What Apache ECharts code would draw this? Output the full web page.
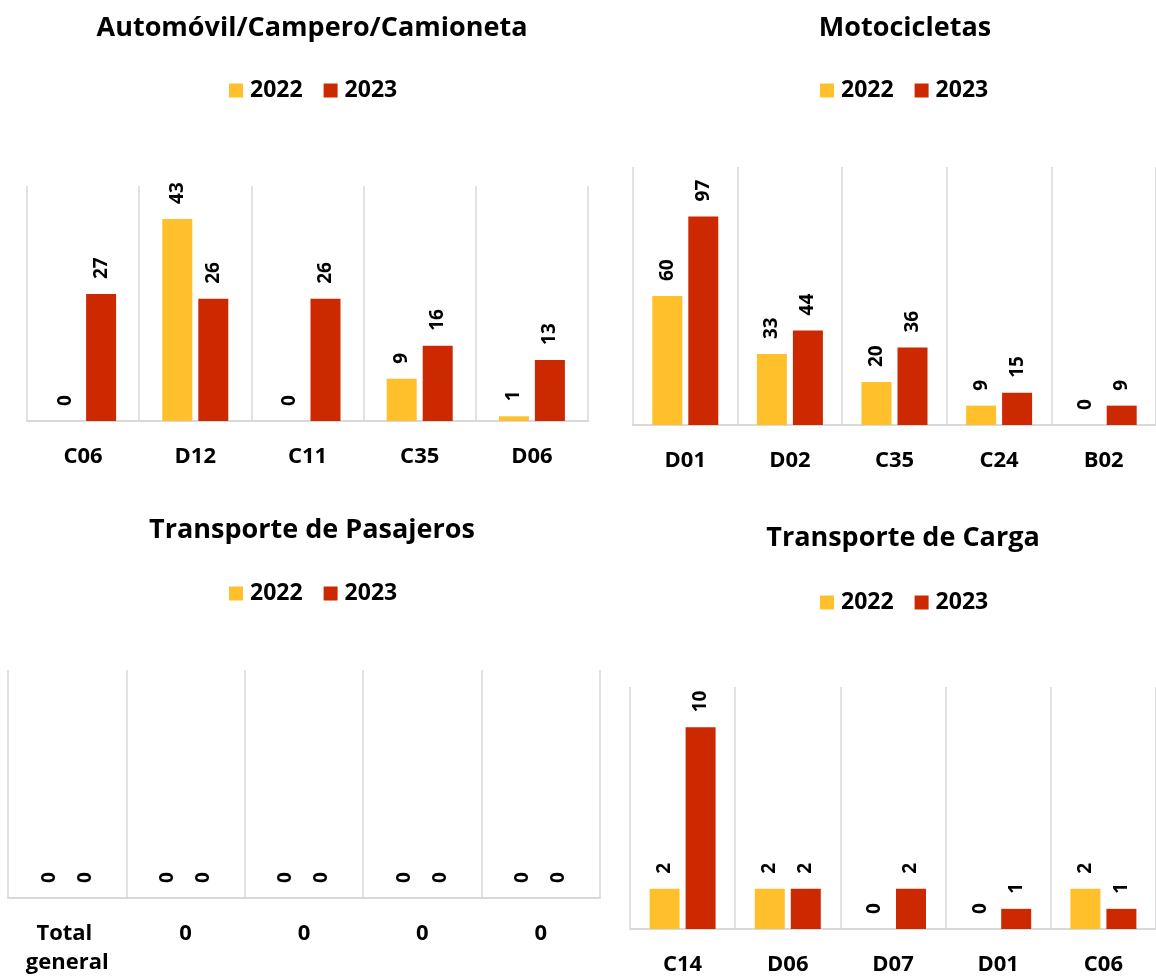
<!DOCTYPE html>
<html>
<head>
<meta charset="utf-8">
<script src="https://cdn.jsdelivr.net/npm/echarts@6/dist/echarts.min.js"></script>
<style>
  html, body { margin: 0; padding: 0; background: #fff; }
  #main { width: 1156px; height: 979px; }
</style>
</head>
<body>
<div id="main"></div>
<script>
// datos por panel
const autoCats = ['C06', 'D12', 'C11', 'C35', 'D06'];
const auto2022 = [0, 43, 0, 9, 1];
const auto2023 = [27, 26, 26, 16, 13];

const motoCats = ['D01', 'D02', 'C35', 'C24', 'B02'];
const moto2022 = [60, 33, 20, 9, 0];
const moto2023 = [97, 44, 36, 15, 9];

const pasajCats = ['Total general', '0', '0', '0', '0'];
const pasaj2022 = [0, 0, 0, 0, 0];
const pasaj2023 = [0, 0, 0, 0, 0];

const cargaCats = ['C14', 'D06', 'D07', 'D01', 'C06'];
const carga2022 = [2, 2, 0, 0, 2];
const carga2023 = [10, 2, 2, 1, 1];

const yMax = [50, 120, 10, 12];

const FONT = 'Open Sans';
const YELLOW = '#FFC02B';
const RED = '#CC2900';
const GRID_COLOR = '#D9D9D9';

const chart = echarts.init(document.getElementById('main'));

const panels = [
  { title: 'Automóvil/Campero/Camioneta', cx: 307, ty: 10, ly: 79, lx: 229, cats: autoCats, a: auto2022, b: auto2023 },
  { title: 'Motocicletas', cx: 900, ty: 10, ly: 79, lx: 820, cats: motoCats, a: moto2022, b: moto2023 },
  { title: 'Transporte de Pasajeros', cx: 307, ty: 512, ly: 582, lx: 229, cats: pasajCats, a: pasaj2022, b: pasaj2023 },
  { title: 'Transporte de Carga', cx: 898, ty: 520, ly: 591, lx: 820, cats: cargaCats, a: carga2022, b: carga2023 }
];

const grids = [
  { left: 27, top: 186, width: 561, height: 235 },
  { left: 633, top: 167, width: 560, height: 258 },
  { left: 8, top: 670, width: 592, height: 228 },
  { left: 630, top: 687, width: 560, height: 244 }
];

const labelStyle = {
  show: true,
  position: 'top',
  rotate: 90,
  align: 'left',
  verticalAlign: 'middle',
  distance: 15,
  color: '#000',
  fontFamily: FONT,
  fontWeight: 'bold',
  fontSize: 19
};

const option = {
  animation: false,
  backgroundColor: '#fff',
  title: panels.map(p => ({
    text: p.title,
    left: p.cx,
    top: p.ty,
    textAlign: 'center',
    textStyle: { fontFamily: FONT, fontWeight: 'bold', fontSize: 27, color: '#000' }
  })),
  legend: panels.map((p, i) => ({
    data: ['2022', '2023'],
    left: p.lx,
    top: p.ly,
    padding: 0,
    itemWidth: 14,
    itemHeight: 14,
    itemGap: 21,
    icon: 'rect',
    textStyle: { fontFamily: FONT, fontWeight: 'bold', fontSize: 23, color: '#000', padding: [0, 0, 0, 2] }
  })),
  grid: grids,
  xAxis: panels.map((p, i) => ({
    type: 'category',
    gridIndex: i,
    data: p.cats,
    axisTick: { show: false },
    axisLine: { lineStyle: { color: GRID_COLOR, width: 2 } },
    splitLine: { show: true, lineStyle: { color: GRID_COLOR, width: 1.5 } },
    axisLabel: {
      interval: 0,
      margin: 21,
      color: '#000',
      fontFamily: FONT,
      fontWeight: 'bold',
      fontSize: 22,
      lineHeight: 29,
      width: 100,
      overflow: 'break'
    }
  })),
  yAxis: panels.map((p, i) => ({
    type: 'value',
    gridIndex: i,
    min: 0,
    max: yMax[i],
    show: false
  })),
  series: []
};

panels.forEach((p, i) => {
  option.series.push({
    name: '2022',
    type: 'bar',
    xAxisIndex: i,
    yAxisIndex: i,
    data: p.a,
    barWidth: 30,
    barGap: '20%',
    itemStyle: { color: YELLOW },
    label: labelStyle
  });
  option.series.push({
    name: '2023',
    type: 'bar',
    xAxisIndex: i,
    yAxisIndex: i,
    data: p.b,
    barWidth: 30,
    barGap: '20%',
    itemStyle: { color: RED },
    label: labelStyle
  });
});

chart.setOption(option);
</script>
</body>
</html>
